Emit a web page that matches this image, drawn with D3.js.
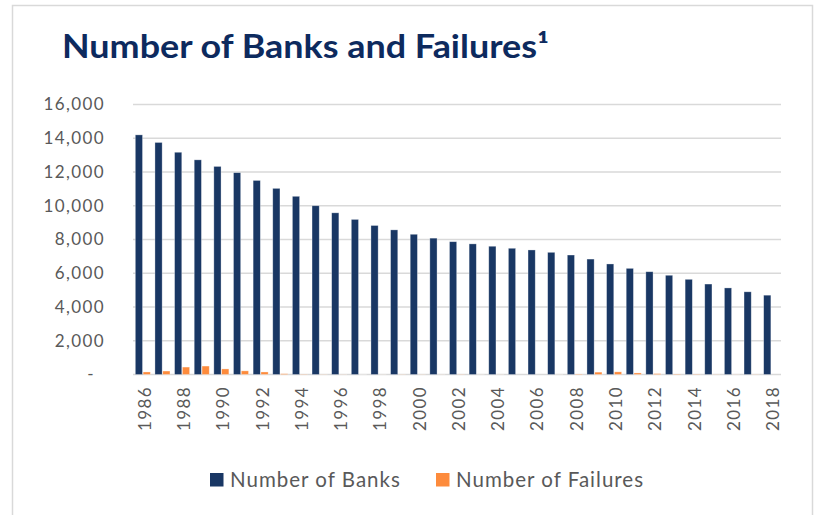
<!DOCTYPE html>
<html>
<head>
<meta charset="utf-8">
<script src="https://cdn.jsdelivr.net/npm/d3@7"></script>
<style>
  html, body { margin: 0; padding: 0; background: #fff; }
  text { font-family: Lato, "Open Sans", sans-serif; }
</style>
</head>
<body>
<svg id="chart"></svg>
<script>
// data
const years = d3.range(1986, 2019).map(String);
const banks = [14200, 13750, 13170, 12720, 12330, 11960, 11500, 11030, 10560, 10000,
  9580, 9190, 8830, 8570, 8310, 8080, 7870, 7740, 7600, 7480,
  7380, 7240, 7080, 6840, 6550, 6290, 6090, 5880, 5640, 5360,
  5130, 4900, 4700];
const failures = [150, 205, 440, 500, 330, 215, 150, 45, 15, 8,
  6, 1, 3, 8, 7, 4, 11, 3, 4, 0,
  0, 3, 25, 140, 157, 92, 51, 24, 18, 8,
  5, 8, 0];
const yTicks = [0, 2000, 4000, 6000, 8000, 10000, 12000, 14000, 16000];
const xTickYears = years.filter((d, i) => i % 2 === 0);
const seriesNames = ["Number of Banks", "Number of Failures"];

const W = 820, H = 515;
const colors = ["#193764", "#fd8b3c"];

const svg = d3.select("#chart").attr("width", W).attr("height", H);

// card border
svg.append("rect")
  .attr("x", 12.5).attr("y", 5.5)
  .attr("width", 800).attr("height", 520)
  .attr("fill", "#fff")
  .attr("stroke", "#d9d9d9")
  .attr("stroke-width", 1.5);

const plot = { left: 133, right: 781, top: 104.5, bottom: 374.5 };

const x0 = d3.scaleBand()
  .domain(years)
  .range([plot.left, plot.right])
  .paddingInner(0.235)
  .paddingOuter(0.1175);

const x1 = d3.scaleBand()
  .domain([0, 1])
  .range([0, x0.bandwidth()])
  .paddingInner(0.08);

const y = d3.scaleLinear()
  .domain([0, 16000])
  .range([plot.bottom, plot.top]);

// gridlines
svg.append("g")
  .selectAll("line")
  .data(yTicks)
  .join("line")
  .attr("x1", plot.left).attr("x2", plot.right)
  .attr("y1", d => y(d)).attr("y2", d => y(d))
  .attr("stroke", "#d9d9d9")
  .attr("stroke-width", 1.6);

// y axis labels
const yAxis = svg.append("g")
  .attr("transform", `translate(${plot.left},0)`)
  .call(d3.axisLeft(y).tickValues(yTicks).tickSize(0).tickPadding(28)
    .tickFormat(d => d === 0 ? "-" : d3.format(",")(d)));
yAxis.select(".domain").remove();
yAxis.selectAll("text")
  .attr("fill", "#595959")
  .style("font-size", "17px")
  .style("letter-spacing", "1.4px")
  .style("font-family", "Lato, sans-serif");
yAxis.selectAll(".tick").filter(d => d === 0).select("text").attr("dx", -10);

// bars
const rows = years.map((yr, i) => ({ yr, vals: [banks[i], failures[i]] }));
const groups = svg.append("g")
  .selectAll("g")
  .data(rows)
  .join("g")
  .attr("transform", d => `translate(${x0(d.yr)},0)`);

groups.selectAll("rect")
  .data(d => d.vals.map((v, k) => ({ v, k })))
  .join("rect")
  .attr("x", d => x1(d.k))
  .attr("width", x1.bandwidth())
  .attr("y", d => y(d.v))
  .attr("height", d => y(0) - y(d.v))
  .attr("fill", d => colors[d.k])
  .attr("stroke", "#ffffff")
  .attr("stroke-opacity", 0.45)
  .attr("stroke-width", 0.7);

// x axis labels (rotated)
svg.append("g")
  .selectAll("text")
  .data(xTickYears)
  .join("text")
  .attr("transform", d => `translate(${x0(d) + x0.bandwidth() / 2 + 2},386) rotate(-90)`)
  .attr("text-anchor", "end")
  .attr("dy", "0.35em")
  .attr("fill", "#595959")
  .style("font-size", "17px")
  .style("letter-spacing", "1.4px")
  .text(d => d);

// title
svg.append("text")
  .attr("x", 62)
  .attr("y", 58)
  .attr("fill", "#0d2a5e")
  .style("font-size", "33px")
  .style("font-weight", "bold")
  .attr("textLength", 487)
  .attr("lengthAdjust", "spacingAndGlyphs")
  .text("Number of Banks and Failures\u00b9");

// legend
const legendX = [210, 436];
const legend = svg.append("g")
  .selectAll("g")
  .data(seriesNames)
  .join("g")
  .attr("transform", (d, i) => `translate(${legendX[i]},473)`);
legend.append("rect")
  .attr("width", 13.5).attr("height", 13.5)
  .attr("fill", (d, i) => colors[i]);
legend.append("text")
  .attr("x", 20).attr("y", 13.5)
  .attr("fill", "#595959")
  .style("font-size", "20.5px")
  .style("letter-spacing", "1px")
  .text(d => d);
</script>
</body>
</html>
